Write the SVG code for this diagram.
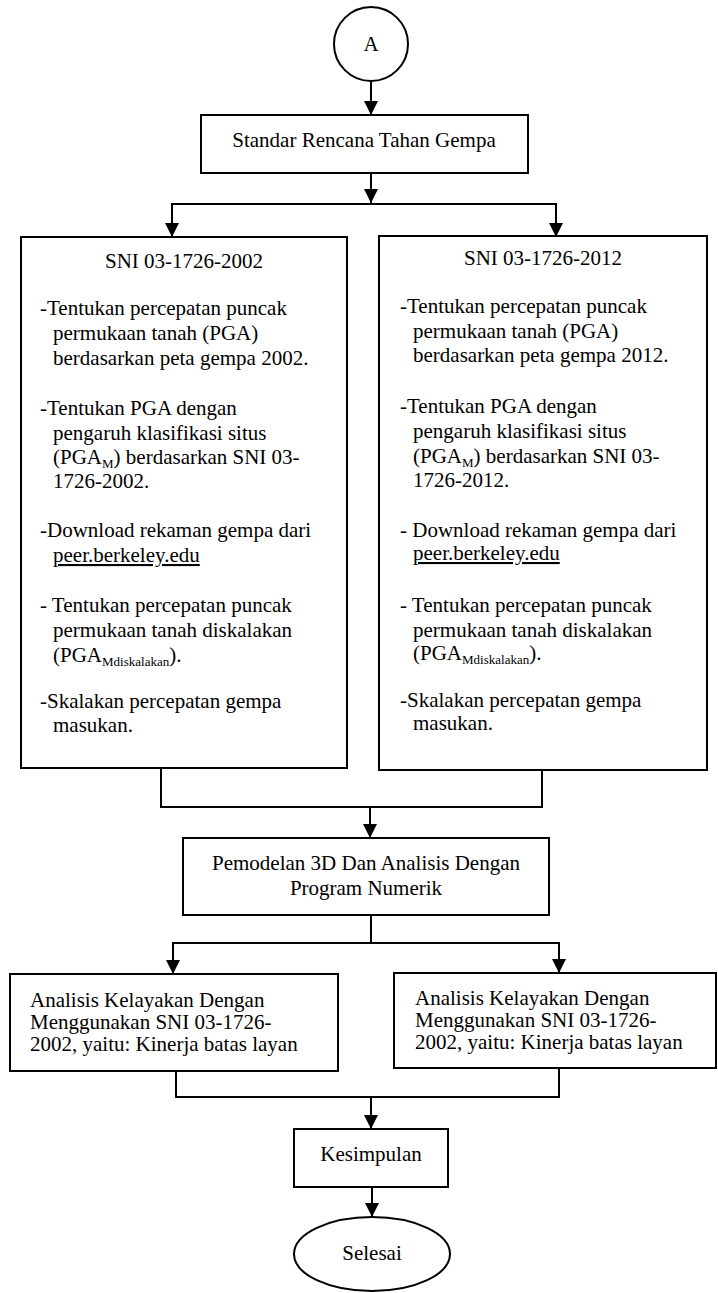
<svg xmlns="http://www.w3.org/2000/svg" width="718" height="1293" viewBox="0 0 718 1293">
<style>
.box{fill:#fff;stroke:#000;stroke-width:2}
.ln{fill:none;stroke:#000;stroke-width:2}
.t{font-family:"Liberation Serif","Times New Roman",serif;font-size:21px;fill:#000}
.c{text-anchor:middle}
.sub{font-size:13px}
</style>
<defs>
<marker id="ah" viewBox="0 0 10 10" refX="10" refY="5" markerWidth="14" markerHeight="14" markerUnits="userSpaceOnUse" orient="auto">
<path d="M0,0 L10,5 L0,10 z" fill="#000"/>
</marker>
</defs>
<rect width="718" height="1293" fill="#fff"/>
<g id="connectors">
<line class="ln" x1="371" y1="81" x2="371" y2="115" marker-end="url(#ah)"/>
<line class="ln" x1="371" y1="173" x2="371" y2="203" marker-end="url(#ah)"/>
<line class="ln" x1="171" y1="204" x2="557" y2="204"/>
<line class="ln" x1="172" y1="204" x2="172" y2="237" marker-end="url(#ah)"/>
<line class="ln" x1="556" y1="204" x2="556" y2="237" marker-end="url(#ah)"/>
<polyline class="ln" points="161,768 161,807 542,807 542,770"/>
<line class="ln" x1="370" y1="807" x2="370" y2="838" marker-end="url(#ah)"/>
<line class="ln" x1="371" y1="915" x2="371" y2="943"/>
<line class="ln" x1="172" y1="943" x2="560" y2="943"/>
<line class="ln" x1="173" y1="943" x2="173" y2="974" marker-end="url(#ah)"/>
<line class="ln" x1="559" y1="943" x2="559" y2="973" marker-end="url(#ah)"/>
<polyline class="ln" points="176,1071 176,1097 559,1097 559,1068"/>
<line class="ln" x1="371" y1="1097" x2="371" y2="1129" marker-end="url(#ah)"/>
<line class="ln" x1="372" y1="1187" x2="372" y2="1217" marker-end="url(#ah)"/>
</g>
<g id="node-a">
<circle class="box" cx="371" cy="44" r="37"/>
<text class="t c" x="371" y="51">A</text>
</g>
<g id="node-standar">
<rect class="box" x="201" y="115" width="327" height="58"/>
<text class="t c" x="364" y="147">Standar Rencana Tahan Gempa</text>
</g>
<g id="node-sni2002">
<rect class="box" x="21" y="237" width="326" height="531"/>
<text class="t c" x="184" y="268">SNI 03-1726-2002</text>
<text class="t" x="40" y="315">-Tentukan percepatan puncak</text>
<text class="t" x="53" y="340">permukaan tanah (PGA)</text>
<text class="t" x="53" y="365">berdasarkan peta gempa 2002.</text>
<text class="t" x="40" y="415">-Tentukan PGA dengan</text>
<text class="t" x="53" y="440">pengaruh klasifikasi situs</text>
<text class="t" x="53" y="464">(PGA<tspan class="sub" dy="4">M</tspan><tspan dy="-4">) berdasarkan SNI 03-</tspan></text>
<text class="t" x="53" y="488">1726-2002.</text>
<text class="t" x="40" y="537">-Download rekaman gempa dari</text>
<text class="t" x="53" y="562" text-decoration="underline">peer.berkeley.edu</text>
<text class="t" x="40" y="612">- Tentukan percepatan puncak</text>
<text class="t" x="53" y="637">permukaan tanah diskalakan</text>
<text class="t" x="53" y="662">(PGA<tspan class="sub" dy="4">Mdiskalakan</tspan><tspan dy="-4">).</tspan></text>
<text class="t" x="40" y="708">-Skalakan percepatan gempa</text>
<text class="t" x="53" y="732">masukan.</text>
</g>
<g id="node-sni2012">
<rect class="box" x="379" y="236" width="328" height="534"/>
<text class="t c" x="543" y="265">SNI 03-1726-2012</text>
<text class="t" x="400" y="313">-Tentukan percepatan puncak</text>
<text class="t" x="413" y="338">permukaan tanah (PGA)</text>
<text class="t" x="413" y="362">berdasarkan peta gempa 2012.</text>
<text class="t" x="400" y="413">-Tentukan PGA dengan</text>
<text class="t" x="413" y="438">pengaruh klasifikasi situs</text>
<text class="t" x="413" y="463">(PGA<tspan class="sub" dy="4">M</tspan><tspan dy="-4">) berdasarkan SNI 03-</tspan></text>
<text class="t" x="413" y="487">1726-2012.</text>
<text class="t" x="400" y="537">- Download rekaman gempa dari</text>
<text class="t" x="413" y="560" text-decoration="underline">peer.berkeley.edu</text>
<text class="t" x="400" y="612">- Tentukan percepatan puncak</text>
<text class="t" x="413" y="637">permukaan tanah diskalakan</text>
<text class="t" x="413" y="660">(PGA<tspan class="sub" dy="4">Mdiskalakan</tspan><tspan dy="-4">).</tspan></text>
<text class="t" x="400" y="707">-Skalakan percepatan gempa</text>
<text class="t" x="413" y="730">masukan.</text>
</g>
<g id="node-pemodelan">
<rect class="box" x="183" y="838" width="366" height="77"/>
<text class="t c" x="366" y="870">Pemodelan 3D Dan Analisis Dengan</text>
<text class="t c" x="366" y="895">Program Numerik</text>
</g>
<g id="node-analisis-left">
<rect class="box" x="10" y="974" width="328" height="97"/>
<text class="t" x="30" y="1007">Analisis Kelayakan Dengan</text>
<text class="t" x="30" y="1029">Menggunakan SNI 03-1726-</text>
<text class="t" x="30" y="1051">2002, yaitu: Kinerja batas layan</text>
</g>
<g id="node-analisis-right">
<rect class="box" x="394" y="973" width="322" height="95"/>
<text class="t" x="415" y="1005">Analisis Kelayakan Dengan</text>
<text class="t" x="415" y="1027">Menggunakan SNI 03-1726-</text>
<text class="t" x="415" y="1049">2002, yaitu: Kinerja batas layan</text>
</g>
<g id="node-kesimpulan">
<rect class="box" x="294" y="1129" width="154" height="58"/>
<text class="t c" x="371" y="1161">Kesimpulan</text>
</g>
<g id="node-selesai">
<ellipse class="box" cx="372" cy="1254" rx="78" ry="37"/>
<text class="t c" x="372" y="1260">Selesai</text>
</g>
</svg>
